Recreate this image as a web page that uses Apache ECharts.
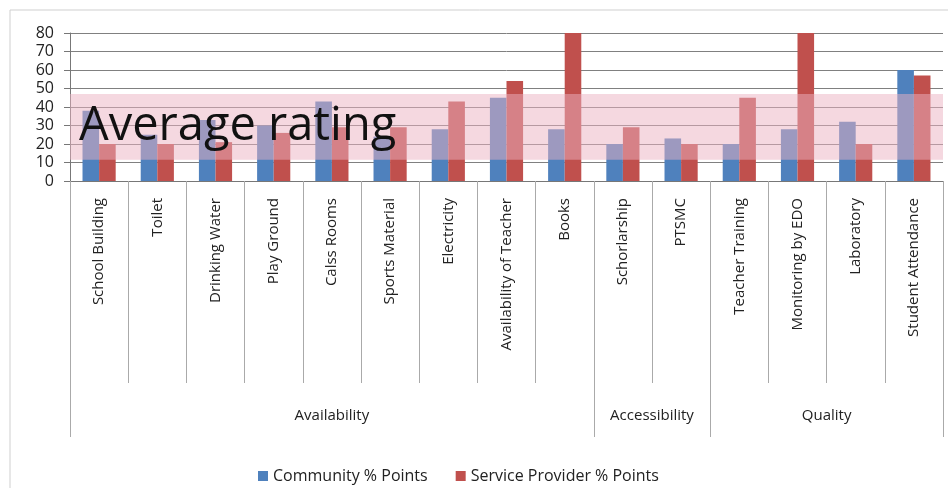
<!DOCTYPE html>
<html>
<head>
<meta charset="utf-8">
<title>Community vs Service Provider ratings</title>
<script src="https://cdn.jsdelivr.net/npm/echarts@6/dist/echarts.min.js"></script>
<style>
  html, body { margin: 0; padding: 0; background: #fff; }
  #chart { width: 948px; height: 488px; }
</style>
</head>
<body>
<div id="chart"></div>
<script>
// Facilities rated by the community and by service providers (% points)
var categories = ['School Building', 'Toilet', 'Drinking Water', 'Play Ground', 'Calss Rooms',
  'Sports Material', 'Electricity', 'Availability of Teacher', 'Books', 'Schorlarship',
  'PTSMC', 'Teacher Training', 'Monitoring by EDO', 'Laboratory', 'Student Attendance'];
var community = [38, 25, 33, 30, 43, 24, 28, 45, 28, 20, 23, 20, 28, 32, 60];
var provider  = [20, 20, 21, 26, 29, 29, 43, 54, 80, 29, 20, 45, 80, 20, 57];

// Outer grouping of the categories
var groupNames = ['Availability', 'Accessibility', 'Quality'];
var groupSizes = [9, 2, 4];

// Band marking the average-rating range
var averageBand = [11.5, 47];
var averageLabel = 'Average rating';

var yTicks = { min: 0, max: 80, interval: 10 };

// Group boundaries and centres in category units
var groupEdges = [0];
var groupCentres = [];
groupSizes.forEach(function (n, i) {
  var start = groupEdges[i];
  groupEdges.push(start + n);
  groupCentres.push(start + n / 2);
});

var FONT = '"Open Sans", sans-serif';
var chart = echarts.init(document.getElementById('chart'));

chart.setOption({
  animation: false,
  backgroundColor: '#fff',
  textStyle: { fontFamily: FONT },
  graphic: [{
    type: 'rect',
    shape: { x: 10, y: 10, width: 960, height: 500 },
    style: { fill: 'none', stroke: '#cfcfcf', lineWidth: 1 },
    silent: true
  }],
  grid: { left: 70, right: 5, top: 33, bottom: 307, containLabel: false },
  legend: {
    data: ['Community % Points', 'Service Provider % Points'],
    left: 253, top: 463,
    itemWidth: 10, itemHeight: 10, itemGap: 28,
    icon: 'rect',
    textStyle: { fontFamily: FONT, fontSize: 16, color: '#222' }
  },
  xAxis: [{
    type: 'category',
    data: categories,
    axisLine: { show: true, lineStyle: { color: '#777' } },
    axisTick: { show: true, interval: 0, length: 202, lineStyle: { color: '#aaa' } },
    axisLabel: {
      interval: 0, rotate: 90, margin: 17,
      fontFamily: FONT, fontSize: 15, color: '#222'
    },
    splitLine: { show: false }
  }, {
    type: 'value',
    min: 0, max: categories.length,
    position: 'bottom',
    offset: 256,
    axisLine: { show: false },
    splitLine: { show: false },
    axisTick: {
      show: true, inside: true, length: 256,
      customValues: groupEdges,
      lineStyle: { color: '#aaa' }
    },
    axisLabel: {
      show: true, inside: true, margin: 14,
      customValues: groupCentres,
      formatter: function (v) {
        var i = groupCentres.indexOf(v);
        return i >= 0 ? groupNames[i] : '';
      },
      fontFamily: FONT, fontSize: 15, color: '#222'
    }
  }],
  yAxis: {
    type: 'value',
    min: yTicks.min, max: yTicks.max, interval: yTicks.interval,
    axisLine: { show: true, lineStyle: { color: '#777' } },
    axisTick: { show: true, length: 6, lineStyle: { color: '#777' } },
    axisLabel: { margin: 16, fontFamily: FONT, fontSize: 16, color: '#222' },
    splitLine: { show: true, lineStyle: { color: '#808080', width: 1 } }
  },
  series: [{
    name: 'Community % Points',
    type: 'bar',
    data: community,
    barGap: '0%',
    barCategoryGap: '43%',
    itemStyle: { color: '#4F81BD' },
    z: 2
  }, {
    name: 'Service Provider % Points',
    type: 'bar',
    data: provider,
    itemStyle: { color: '#C0504D' },
    z: 2
  }, {
    name: 'band',
    type: 'line',
    data: [],
    z: 5,
    markArea: {
      z: 5,
      silent: true,
      itemStyle: { color: 'rgba(236,178,194,0.5)' },
      label: {
        show: true,
        position: 'insideLeft',
        distance: 9,
        fontFamily: FONT,
        fontSize: 47,
        color: '#111'
      },
      data: [[{ yAxis: averageBand[0], name: averageLabel }, { yAxis: averageBand[1] }]]
    }
  }]
});
</script>
</body>
</html>
